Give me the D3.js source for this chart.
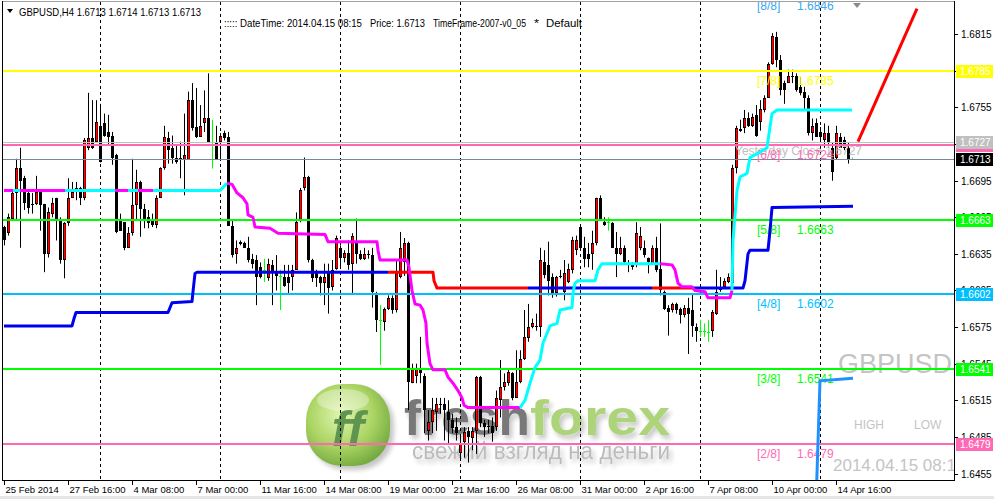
<!DOCTYPE html>
<html>
<head>
<meta charset="utf-8">
<script src="https://cdn.jsdelivr.net/npm/d3@7"></script>
<style>
  html, body { margin: 0; padding: 0; background: #fff; }
  svg { display: block; font-family: "Liberation Sans", Arial, sans-serif; }
</style>
</head>
<body>
<div id="chart"></div>
<script>
// GBPUSD H4 bars, 25 Feb 2014 00:00 .. 15 Apr 2014 08:00
var barOpen = [
  1.6657,1.6652,1.6664,1.6685,1.6705,1.6697,1.6685,1.6675,1.6676,1.6686,
  1.6676,1.6635,1.6668,1.6681,1.6664,1.6630,1.6660,1.6681,1.6686,1.6689,
  1.6681,1.6722,1.6730,1.6727,1.6740,1.6742,1.6735,1.6732,1.6716,1.6663,
  1.6661,1.6640,1.6652,1.6675,1.6694,1.6672,1.6665,1.6663,1.6659,1.6681,
  1.6705,1.6730,1.6722,1.6714,1.6714,1.6712,1.6712,1.6761,1.6739,1.6731,
  1.6742,1.6746,1.6727,1.6727,1.6727,1.6734,1.6731,1.6658,1.6635,1.6645,
  1.6644,1.6640,1.6631,1.6630,1.6624,1.6622,1.6615,1.6626,1.6620,1.6617,
  1.6616,1.6616,1.6616,1.6622,1.6663,1.6689,1.6698,1.6630,1.6619,1.6616,
  1.6611,1.6619,1.6608,1.6623,1.6640,1.6632,1.6636,1.6627,1.6645,1.6635,
  1.6631,1.6635,1.6634,1.6603,1.6581,1.6579,1.6590,1.6599,1.6589,1.6616,
  1.6628,1.6644,1.6529,1.6535,1.6541,1.6535,1.6490,1.6497,1.6505,1.6512,
  1.6512,1.6505,1.6499,1.6493,1.6472,1.6481,1.6490,1.6484,1.6490,1.6534,
  1.6496,1.6494,1.6494,1.6493,1.6515,1.6526,1.6529,1.6537,1.6517,1.6530,
  1.6549,1.6566,1.6575,1.6576,1.6575,1.6628,1.6626,1.6616,1.6603,1.6617,
  1.6604,1.6612,1.6622,1.6638,1.6657,1.6640,1.6635,1.6635,1.6644,1.6681,
  1.6661,1.6661,1.6660,1.6640,1.6635,1.6640,1.6627,1.6626,1.6626,1.6640,
  1.6640,1.6632,1.6627,1.6640,1.6623,1.6604,1.6591,1.6589,1.6594,1.6590,
  1.6585,1.6591,1.6589,1.6575,1.6572,1.6572,1.6571,1.6572,1.6586,1.6607,
  1.6608,1.6612,1.6611,1.6705,1.6736,1.6738,1.6746,1.6740,1.6749,1.6743,
  1.6753,1.6763,1.6791,1.6813,1.6794,1.6775,1.6775,1.6781,1.6781,1.6772,
  1.6768,1.6763,1.6734,1.6742,1.6735,1.6728,1.6734,1.6722,1.6714,1.6731,
  1.6728,1.6722,1.6713
];
var barHigh = [
  1.6658,1.6668,1.6687,1.6713,1.6722,1.6699,1.6686,1.6685,1.6699,1.6686,
  1.6676,1.6673,1.6681,1.6681,1.6665,1.6661,1.6697,1.6694,1.6694,1.6690,
  1.6730,1.6767,1.6761,1.6761,1.6758,1.6750,1.6749,1.6735,1.6717,1.6668,
  1.6661,1.6657,1.6713,1.6704,1.6695,1.6676,1.6671,1.6668,1.6683,1.6706,
  1.6740,1.6735,1.6732,1.6724,1.6727,1.6750,1.6768,1.6775,1.6771,1.6757,
  1.6769,1.6783,1.6745,1.6740,1.6734,1.6736,1.6735,1.6663,1.6646,1.6646,
  1.6645,1.6649,1.6635,1.6634,1.6628,1.6631,1.6631,1.6630,1.6634,1.6622,
  1.6626,1.6626,1.6626,1.6669,1.6689,1.6714,1.6699,1.6631,1.6622,1.6617,
  1.6627,1.6627,1.6630,1.6650,1.6642,1.6638,1.6646,1.6652,1.6664,1.6638,
  1.6640,1.6638,1.6640,1.6604,1.6593,1.6591,1.6601,1.6601,1.6630,1.6653,
  1.6648,1.6645,1.6545,1.6545,1.6567,1.6537,1.6507,1.6517,1.6517,1.6517,
  1.6517,1.6515,1.6504,1.6501,1.6485,1.6493,1.6493,1.6493,1.6535,1.6535,
  1.6499,1.6499,1.6501,1.6523,1.6548,1.6537,1.6540,1.6538,1.6556,1.6556,
  1.6589,1.6594,1.6582,1.6586,1.6640,1.6638,1.6645,1.6619,1.6617,1.6622,
  1.6630,1.6627,1.6649,1.6650,1.6658,1.6649,1.6644,1.6654,1.6681,1.6683,
  1.6665,1.6665,1.6661,1.6653,1.6649,1.6642,1.6630,1.6628,1.6661,1.6657,
  1.6646,1.6632,1.6642,1.6649,1.6660,1.6605,1.6593,1.6595,1.6595,1.6591,
  1.6593,1.6599,1.6603,1.6578,1.6581,1.6578,1.6581,1.6589,1.6622,1.6616,
  1.6615,1.6619,1.6708,1.6740,1.6745,1.6753,1.6751,1.6750,1.6757,1.6761,
  1.6765,1.6792,1.6816,1.6817,1.6798,1.6777,1.6786,1.6786,1.6783,1.6780,
  1.6772,1.6765,1.6746,1.6746,1.6739,1.6742,1.6740,1.6726,1.6740,1.6734,
  1.6731,1.6726,1.6714
];
var barLow = [
  1.6642,1.6650,1.6663,1.6663,1.6640,1.6671,1.6668,1.6668,1.6675,1.6654,
  1.6620,1.6632,1.6665,1.6646,1.6627,1.6615,1.6658,1.6681,1.6679,1.6675,
  1.6679,1.6720,1.6721,1.6727,1.6710,1.6731,1.6724,1.6708,1.6652,1.6654,
  1.6638,1.6640,1.6650,1.6663,1.6649,1.6656,1.6656,1.6657,1.6656,1.6681,
  1.6704,1.6709,1.6709,1.6709,1.6697,1.6683,1.6712,1.6736,1.6730,1.6731,
  1.6735,1.6727,1.6705,1.6712,1.6712,1.6728,1.6658,1.6632,1.6627,1.6642,
  1.6640,1.6628,1.6623,1.6593,1.6615,1.6612,1.6613,1.6593,1.6605,1.6589,
  1.6608,1.6603,1.6605,1.6622,1.6661,1.6687,1.6628,1.6612,1.6608,1.6601,
  1.6593,1.6586,1.6605,1.6622,1.6623,1.6628,1.6622,1.6603,1.6627,1.6630,
  1.6630,1.6631,1.6591,1.6571,1.6544,1.6572,1.6589,1.6586,1.6587,1.6615,
  1.6617,1.6507,1.6529,1.6529,1.6529,1.6488,1.6482,1.6488,1.6490,1.6504,
  1.6482,1.6480,1.6488,1.6482,1.6466,1.6468,1.6464,1.6474,1.6471,1.6493,
  1.6485,1.6488,1.6481,1.6490,1.6501,1.6523,1.6527,1.6515,1.6517,1.6529,
  1.6548,1.6563,1.6574,1.6572,1.6567,1.6615,1.6601,1.6599,1.6600,1.6615,
  1.6597,1.6611,1.6619,1.6634,1.6638,1.6624,1.6624,1.6622,1.6642,1.6663,
  1.6658,1.6654,1.6640,1.6616,1.6634,1.6626,1.6620,1.6622,1.6624,1.6638,
  1.6632,1.6619,1.6626,1.6620,1.6601,1.6589,1.6568,1.6587,1.6586,1.6578,
  1.6583,1.6553,1.6567,1.6563,1.6567,1.6567,1.6563,1.6567,1.6585,1.6604,
  1.6607,1.6611,1.6609,1.6701,1.6735,1.6734,1.6739,1.6739,1.6731,1.6736,
  1.6751,1.6763,1.6790,1.6788,1.6765,1.6758,1.6775,1.6775,1.6768,1.6765,
  1.6753,1.6732,1.6728,1.6731,1.6728,1.6722,1.6722,1.6695,1.6712,1.6722,
  1.6720,1.6709,1.6713
];
var barClose = [
  1.6646,1.6665,1.6685,1.6705,1.6695,1.6677,1.6673,1.6676,1.6686,1.6675,
  1.6635,1.6669,1.6677,1.6663,1.6630,1.6660,1.6681,1.6686,1.6689,1.6681,
  1.6728,1.6730,1.6722,1.6743,1.6710,1.6732,1.6731,1.6714,1.6653,1.6654,
  1.6640,1.6652,1.6675,1.6694,1.6672,1.6663,1.6660,1.6659,1.6681,1.6705,
  1.6731,1.6720,1.6714,1.6710,1.6712,1.6716,1.6761,1.6738,1.6731,1.6740,
  1.6746,1.6727,1.6727,1.6712,1.6732,1.6730,1.6658,1.6634,1.6640,1.6643,
  1.6640,1.6630,1.6627,1.6616,1.6616,1.6622,1.6627,1.6619,1.6617,1.6617,
  1.6609,1.6611,1.6622,1.6661,1.6687,1.6698,1.6630,1.6615,1.6615,1.6611,
  1.6616,1.6607,1.6622,1.6648,1.6632,1.6636,1.6626,1.6650,1.6635,1.6631,
  1.6635,1.6634,1.6604,1.6581,1.6581,1.6590,1.6599,1.6589,1.6619,1.6640,
  1.6644,1.6530,1.6541,1.6541,1.6537,1.6507,1.6497,1.6507,1.6512,1.6511,
  1.6507,1.6499,1.6492,1.6488,1.6480,1.6489,1.6485,1.6490,1.6534,1.6496,
  1.6493,1.6493,1.6488,1.6517,1.6526,1.6530,1.6538,1.6517,1.6530,1.6549,
  1.6567,1.6575,1.6578,1.6575,1.6630,1.6618,1.6613,1.6603,1.6616,1.6616,
  1.6619,1.6623,1.6646,1.6646,1.6640,1.6631,1.6631,1.6644,1.6681,1.6664,
  1.6659,1.6661,1.6640,1.6635,1.6640,1.6628,1.6626,1.6624,1.6652,1.6650,
  1.6634,1.6628,1.6640,1.6622,1.6605,1.6590,1.6587,1.6594,1.6589,1.6585,
  1.6591,1.6586,1.6576,1.6572,1.6572,1.6572,1.6571,1.6587,1.6604,1.6605,
  1.6613,1.6616,1.6705,1.6738,1.6737,1.6746,1.6740,1.6747,1.6732,1.6754,
  1.6763,1.6791,1.6814,1.6794,1.6769,1.6769,1.6781,1.6780,1.6769,1.6767,
  1.6763,1.6734,1.6740,1.6731,1.6731,1.6734,1.6726,1.6702,1.6734,1.6722,
  1.6722,1.6713,1.6713
];

// trailing line (cyan = up, magenta = down), breakpoints in bar / price
var trailBar = [0,2.25,4,15.25,27.75,31,33.5,37.25,54,55.75,57,58.25,59.75,60.75,61,62.25,62.75,66.5,68.5,80.25,81,93.25,93.5,94,100.75,101.25,102,102.75,104,104.75,105.5,105.75,106.5,107.25,110.25,111,112.25,113.5,114.5,115,116,129,130.25,131.5,132.75,134,134.75,135.75,136.5,138.25,139,142,142.25,142.75,143.5,147.75,148.5,149.5,164,167,167.75,168.5,169.5,172,172.75,175.25,176,181.5,182,182.25,183.25,184,185.75,186.5,188.25,190.75,191.5,192,193.25,212];
var trailPrice = [1.6687,1.6687,1.6687,1.6687,1.6687,1.6687,1.6687,1.6687,1.6687,1.6693,1.6692,1.6685,1.6681,1.6676,1.6667,1.6665,1.6657,1.6656,1.6652,1.6651,1.6645,1.6645,1.6638,1.6630,1.6630,1.6624,1.6605,1.6594,1.6593,1.6589,1.6578,1.6562,1.6545,1.6540,1.6540,1.6534,1.6529,1.6523,1.6517,1.6511,1.6509,1.6509,1.6515,1.6529,1.6542,1.6548,1.6562,1.6570,1.6576,1.6578,1.6589,1.6591,1.6603,1.6611,1.6613,1.6613,1.6622,1.6627,1.6627,1.6626,1.6622,1.6611,1.6608,1.6608,1.6605,1.6604,1.6599,1.6599,1.6605,1.6646,1.6687,1.6698,1.6701,1.6714,1.6717,1.6722,1.6739,1.6750,1.6753,1.6753];
var trailSide = ["dn","up","dn","up","dn","up","dn","up","up",
  "dn","dn","dn","dn","dn","dn","dn","dn","dn","dn","dn","dn","dn","dn","dn","dn","dn","dn","dn","dn","dn","dn","dn","dn","dn","dn","dn","dn","dn","dn","dn","dn",
  "up","up","up","up","up","up","up","up","up","up","up","up","up","up","up","up","up",
  "dn","dn","dn","dn","dn","dn","dn","dn","dn","dn",
  "up","up","up","up","up","up","up","up","up","up","up","up","up","up"];

// stepped support line (blue) with red stretches
var stepBar = [0,17,17.5,18,41,42,47,47.25,47.75,48.25,96,107.25,107.5,108.25,131,162,172,184.75,185.25,186,186.5,191,191.5,192,212.25];
var stepPrice = [1.6576,1.6576,1.6582,1.6587,1.6587,1.6595,1.6596,1.6604,1.6619,1.6620,1.6620,1.6620,1.6613,1.6607,1.6607,1.6607,1.6607,1.6607,1.6613,1.6635,1.6638,1.6638,1.6654,1.6673,1.6674];
var stepSide = ["b","b","b","b","b","b","b","b","b","b","r","r","r","r","b","r","b","b","b","b","b","b","b","b","b"];

var trendBar = [213.5, 228.25];
var trendPrice = [1.6727, 1.6836];
var lowBar = [203.1, 204, 212.25];
var lowPrice = [1.6440, 1.6531, 1.6533];

// Murrey math levels
var murreyName = ["[8/8]", "[7/8]", "[6/8]", "[5/8]", "[4/8]", "[3/8]", "[2/8]"];
var murreyLevel = [1.6846, 1.6785, 1.6724, 1.6663, 1.6602, 1.6541, 1.6479];
var murreyColor = ["#39a6f2", "#ffff00", "#ff69b4", "#00ff00", "#00bfff", "#00ff00", "#ff69b4"];
var yesterdayClose = 1.6727;
var bidPrice = 1.6713;

var priceTicks = [1.6455, 1.6485, 1.6515, 1.6545, 1.6575, 1.6605, 1.6635, 1.6665, 1.6695, 1.6725, 1.6755, 1.6785, 1.6815];
var dateTickBar = [0, 16, 32, 48, 64, 80, 96, 112, 128, 144, 160, 176, 192, 208];
var dateTickLabel = ["25 Feb 2014", "27 Feb 16:00", "4 Mar 08:00", "7 Mar 00:00", "11 Mar 16:00", "14 Mar 08:00", "19 Mar 00:00",
  "21 Mar 16:00", "26 Mar 08:00", "31 Mar 00:00", "2 Apr 16:00", "7 Apr 08:00", "10 Apr 00:00", "14 Apr 16:00"];
var gridBar = [24, 54, 84, 114, 144, 174, 204];

var W = 994, H = 499;
var plot = {left: 3, right: 954, top: 2, bottom: 480};

var x = d3.scaleLinear().domain([0, 237.5]).range([4, 954]);
var y = d3.scaleLinear().domain([1.6455, 1.6815]).range([473.5, 34.3]);

var svg = d3.select("#chart").append("svg")
  .attr("width", W)
  .attr("height", H);

var defs = svg.append("defs");
defs.append("clipPath").attr("id", "plotClip")
  .append("rect")
  .attr("x", plot.left).attr("y", plot.top)
  .attr("width", plot.right - plot.left).attr("height", plot.bottom - plot.top);

var grad = defs.append("radialGradient").attr("id", "logoGrad")
  .attr("cx", "42%").attr("cy", "38%").attr("r", "70%");
grad.append("stop").attr("offset", "0%").attr("stop-color", "#dff5a8");
grad.append("stop").attr("offset", "55%").attr("stop-color", "#a2d052");
grad.append("stop").attr("offset", "100%").attr("stop-color", "#5c9a26");
defs.append("filter").attr("id", "blur").attr("x", "-20%").attr("y", "-20%").attr("width", "140%").attr("height", "140%")
  .append("feGaussianBlur").attr("stdDeviation", 2.5);

// soft drop shadow for the watermark words
var shadow = defs.append("filter").attr("id", "shadow")
  .attr("x", "-10%").attr("y", "-30%").attr("width", "130%").attr("height", "170%");
shadow.append("feGaussianBlur").attr("in", "SourceAlpha").attr("stdDeviation", 2.5).attr("result", "b");
shadow.append("feOffset").attr("in", "b").attr("dx", 3).attr("dy", 4).attr("result", "o");
shadow.append("feComponentTransfer").attr("in", "o").attr("result", "s")
  .append("feFuncA").attr("type", "linear").attr("slope", 0.25);
var merge = shadow.append("feMerge");
merge.append("feMergeNode").attr("in", "s");
merge.append("feMergeNode").attr("in", "SourceGraphic");

svg.append("rect").attr("width", W).attr("height", H).attr("fill", "#fff");
svg.append("rect").attr("x", 0).attr("y", 496).attr("width", W).attr("height", 3).attr("fill", "#e6e6e6");

var chart = svg.append("g").attr("clip-path", "url(#plotClip)");

// watermark logo
var logo = chart.append("g").attr("opacity", 0.9);
logo.append("rect").attr("x", 310).attr("y", 388).attr("width", 84).attr("height", 82).attr("rx", 36)
  .attr("fill", "#000").attr("opacity", 0.25).attr("filter", "url(#blur)");
logo.append("rect").attr("x", 306).attr("y", 384).attr("width", 84).attr("height", 82).attr("rx", 36)
  .attr("fill", "url(#logoGrad)");
logo.append("ellipse").attr("cx", 343).attr("cy", 400).attr("rx", 26).attr("ry", 11)
  .attr("fill", "#fff").attr("opacity", 0.35);
logo.append("text").attr("x", 348).attr("y", 446).attr("text-anchor", "middle")
  .attr("font-size", 50).attr("font-weight", "bold").attr("font-style", "italic")
  .attr("fill", "#4e8a3c").text("ff");

var wm = [
  {t: "fresh", x: 404, y: 435, len: 126, size: 50, w: "bold", fill: "#6b6b6b"},
  {t: "forex", x: 530, y: 435, len: 140, size: 50, w: "bold", fill: "#a5d06c"},
  {t: "свежий взгляд на деньги", x: 412, y: 459, len: 258, size: 23, w: "normal", fill: "#b4b4b4"}
];
wm.forEach(function (d) {
  logo.append("text").attr("x", d.x).attr("y", d.y)
    .attr("font-size", d.size).attr("font-weight", d.w)
    .attr("textLength", d.len).attr("lengthAdjust", "spacingAndGlyphs")
    .attr("filter", "url(#shadow)")
    .attr("fill", d.fill).text(d.t);
});

// info panel texts
chart.append("text").attr("x", 838).attr("y", 373).attr("font-size", 27).attr("fill", "#c4c4c4").text("GBPUSD");
chart.append("text").attr("x", 854).attr("y", 429).attr("font-size", 12).attr("fill", "#c4c4c4").text("HIGH");
chart.append("text").attr("x", 914).attr("y", 429).attr("font-size", 12).attr("fill", "#c4c4c4").text("LOW");
chart.append("text").attr("x", 833).attr("y", 471).attr("font-size", 17).attr("fill", "#c4c4c4").text("2014.04.15 08:15");

// week separators
chart.selectAll("line.grid")
  .data(gridBar)
  .enter().append("line")
    .attr("class", "grid")
    .attr("x1", function (d) { return Math.round(x(d)) + 0.5; })
    .attr("x2", function (d) { return Math.round(x(d)) + 0.5; })
    .attr("y1", plot.top).attr("y2", plot.bottom)
    .attr("stroke", "#000").attr("stroke-dasharray", "3,3");

// candles
var bars = chart.append("g");
barOpen.forEach(function (o, i) {
  var c = barClose[i];
  var cx = Math.round(x(i)) + 0.5;
  var doji = (c === o);
  bars.append("line")
    .attr("x1", cx).attr("x2", cx)
    .attr("y1", y(barHigh[i])).attr("y2", y(barLow[i]))
    .attr("stroke", doji ? "#00ff00" : "#000");
  if (doji) {
    bars.append("line")
      .attr("x1", cx - 1.5).attr("x2", cx + 1.5)
      .attr("y1", Math.round(y(o)) + 0.5).attr("y2", Math.round(y(o)) + 0.5)
      .attr("stroke", "#00ff00");
    return;
  }
  var top = Math.round(y(Math.max(o, c))), bot = Math.round(y(Math.min(o, c)));
  bars.append("rect")
    .attr("x", cx - 1.5).attr("y", top)
    .attr("width", 3).attr("height", Math.max(1, bot - top))
    .attr("fill", "#000");
  if (c > o && bot - top > 2) {
    bars.append("rect")
      .attr("x", cx - 0.5).attr("y", top + 1)
      .attr("width", 1.6).attr("height", bot - top - 2)
      .attr("fill", "#ff0000");
  }
});

// horizontal levels
function hline(price, color, width) {
  var yy = Math.round(y(price)) + (width % 2 ? 0.5 : 0);
  chart.append("line")
    .attr("x1", plot.left).attr("x2", plot.right)
    .attr("y1", yy).attr("y2", yy)
    .attr("stroke", color).attr("stroke-width", width);
}
hline(yesterdayClose, "#c0c0c0", 1);
murreyLevel.forEach(function (p, k) { hline(p, murreyColor[k], 2); });
hline(bidPrice, "#778899", 1);

chart.append("text").attr("x", 735).attr("y", y(yesterdayClose) + 13.5)
  .attr("font-size", 12).attr("fill", "#c0c0c0").text("Yesterday Close " + yesterdayClose.toFixed(4));
murreyLevel.forEach(function (p, k) {
  chart.append("text").attr("x", 757).attr("y", y(p) + 14)
    .attr("font-size", 12).attr("fill", murreyColor[k]).text(murreyName[k]);
  chart.append("text").attr("x", 797).attr("y", y(p) + 14)
    .attr("font-size", 12).attr("fill", murreyColor[k]).text(p.toFixed(4));
});

// indicator lines drawn in runs of one colour
var lineGen = d3.line().x(function (d) { return x(d[0]); }).y(function (d) { return y(d[1]); });
function drawRuns(bx, py, side, colors, width) {
  var run = [[bx[0], py[0]]], cur = side[0];
  for (var k = 1; k < bx.length; k++) {
    run.push([bx[k], py[k]]);
    if (k === bx.length - 1 || side[k] !== cur) {
      chart.append("path").attr("d", lineGen(run))
        .attr("fill", "none").attr("stroke", colors[cur])
        .attr("stroke-width", width).attr("stroke-linejoin", "round");
      run = [[bx[k], py[k]]];
      cur = side[k];
    }
  }
}
drawRuns(stepBar, stepPrice, stepSide, {b: "#0000f0", r: "#ff0000"}, 3);
drawRuns(trailBar, trailPrice, trailSide, {up: "#00ffff", dn: "#ff00ff"}, 3);

chart.append("path")
  .attr("d", lineGen(lowBar.map(function (b, k) { return [b, lowPrice[k]]; })))
  .attr("fill", "none").attr("stroke", "#1e90ff").attr("stroke-width", 3);
chart.append("path")
  .attr("d", lineGen(trendBar.map(function (b, k) { return [b, trendPrice[k]]; })))
  .attr("fill", "none").attr("stroke", "#ff0000").attr("stroke-width", 3);

// chart shift marker
svg.append("path").attr("d", "M853,3L861,3L857,8Z").attr("fill", "#8a8a8a");

// header
svg.append("path").attr("d", "M7,9L13,9L10,13Z").attr("fill", "#000");
svg.append("text").attr("x", 19).attr("y", 15.5).attr("font-size", 10.5).attr("fill", "#000")
  .attr("textLength", 182).attr("lengthAdjust", "spacingAndGlyphs")
  .text("GBPUSD,H4  " + [barOpen[212], barHigh[212], barLow[212], barClose[212]].map(function (v) { return v.toFixed(4); }).join(" "));

var headerParts = [
  {t: "::::: DateTime: 2014.04.15 08:15", x: 224, len: 138},
  {t: "Price: " + bidPrice.toFixed(4), x: 370, len: 55},
  {t: "TimeFrame-2007-v0_05", x: 433, len: 93},
  {t: "*", x: 534, len: 5},
  {t: "Default", x: 546, len: 36}
];
headerParts.forEach(function (d) {
  svg.append("text").attr("x", d.x).attr("y", 27).attr("font-size", 10).attr("fill", "#000")
    .attr("textLength", d.len).attr("lengthAdjust", "spacingAndGlyphs").text(d.t);
});

// frame
svg.append("line").attr("x1", plot.left).attr("x2", plot.right).attr("y1", 1.5).attr("y2", 1.5).attr("stroke", "#a0a0a0");
svg.append("line").attr("x1", 2.5).attr("x2", 2.5).attr("y1", 1).attr("y2", plot.bottom).attr("stroke", "#000");
svg.append("line").attr("x1", plot.right + 0.5).attr("x2", plot.right + 0.5).attr("y1", 1).attr("y2", plot.bottom + 1).attr("stroke", "#000");
svg.append("line").attr("x1", 2).attr("x2", plot.right + 1).attr("y1", plot.bottom + 0.5).attr("y2", plot.bottom + 0.5).attr("stroke", "#000");

// price axis
var yAxis = svg.append("g").attr("class", "axis y");
priceTicks.forEach(function (p) {
  var yy = Math.round(y(p)) + 0.5;
  yAxis.append("line").attr("x1", plot.right + 1).attr("x2", plot.right + 4).attr("y1", yy).attr("y2", yy).attr("stroke", "#000");
  yAxis.append("text").attr("x", 961).attr("y", yy + 3.5).attr("font-size", 10).attr("fill", "#000").text(p.toFixed(4));
});

// price boxes
var boxes = [
  {p: murreyLevel[2], c: "#ff69b4"},
  {p: yesterdayClose, c: "#c0c0c0"},
  {p: bidPrice, c: "#000"},
  {p: murreyLevel[1], c: "#ffff00"},
  {p: murreyLevel[3], c: "#00ff00"},
  {p: murreyLevel[4], c: "#00bfff"},
  {p: murreyLevel[5], c: "#00ff00"},
  {p: murreyLevel[6], c: "#ff69b4"}
];
boxes.forEach(function (b) {
  var yy = Math.round(y(b.p));
  yAxis.append("rect").attr("x", 956).attr("y", yy - 6).attr("width", 37).attr("height", 13).attr("fill", b.c);
  yAxis.append("text").attr("x", 960).attr("y", yy + 4).attr("font-size", 10).attr("fill", "#fff").text(b.p.toFixed(4));
});

// time axis
var xAxis = svg.append("g").attr("class", "axis x");
dateTickBar.forEach(function (b, k) {
  var xx = Math.round(x(b)) + 0.5;
  xAxis.append("line").attr("x1", xx).attr("x2", xx).attr("y1", plot.bottom).attr("y2", plot.bottom + 5).attr("stroke", "#000");
  xAxis.append("text").attr("x", xx + 1).attr("y", 493).attr("font-size", 9.5).attr("fill", "#000").text(dateTickLabel[k]);
});
</script>
</body>
</html>
